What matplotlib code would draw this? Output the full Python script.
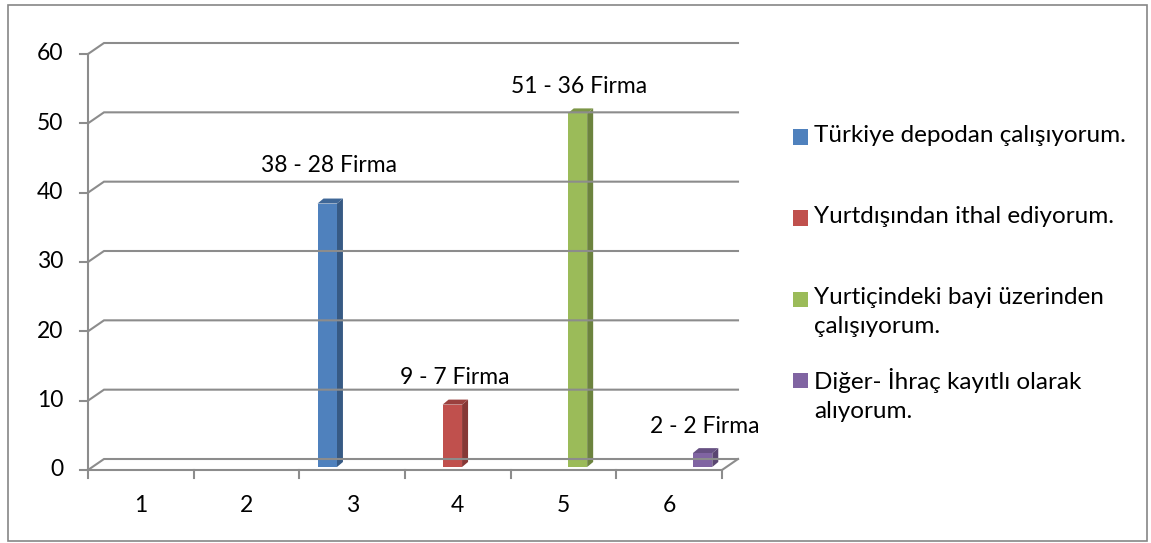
import matplotlib.pyplot as plt
import matplotlib as mpl
from matplotlib.colors import to_rgb
from matplotlib.patches import Rectangle, Polygon

mpl.rcParams['font.family'] = ['Lato', 'DejaVu Sans']

categories = [1, 2, 3, 4, 5, 6]
series_names = [
    "Türkiye depodan çalışıyorum.",
    "Yurtdışından ithal ediyorum.",
    "Yurtiçindeki bayi üzerinden\nçalışıyorum.",
    "Diğer- İhraç kayıtlı olarak\nalıyorum.",
]
series_colors = ["#4F81BD", "#C0504D", "#9BBB59", "#8064A2"]
# each answer only has a value in its own column
values = [
    [0, 0, 38, 0, 0, 0],
    [0, 0, 0, 9, 0, 0],
    [0, 0, 0, 0, 51, 0],
    [0, 0, 0, 0, 0, 2],
]
value_labels = ["38 - 28 Firma", "9 - 7 Firma", "51 - 36 Firma", "2 - 2 Firma"]
y_ticks = [0, 10, 20, 30, 40, 50, 60]

W, H = 1151, 543
fig = plt.figure(figsize=(W / 100, H / 100), dpi=100)
ax = fig.add_axes([88 / W, 1 - 470 / H, (722 - 88) / W, (470 - 54) / H])
ax.set_xlim(0.5, 6.5)
ax.set_ylim(0, 60)
ax.axis('off')

FS = 16.5

# data units per pixel, used for the fake 3d depth
px_x = 6 / (722 - 88)
px_y = 60 / (470 - 54)
wall_dx, wall_dy = 16 * px_x, 11 * px_y
bar_dx, bar_dy = 6 * px_x, 5 * px_y
base = 3 * px_y

line_kw = dict(color='#8c8c8c', lw=1.5, clip_on=False, solid_joinstyle='miter')

# back wall gridlines with the slanted piece going to the front axis
for v in y_ticks:
    ax.plot([0.5, 0.5 + wall_dx, 6.5 + wall_dx], [v, v + wall_dy, v + wall_dy], **line_kw)
    ax.plot([0.5 - 8 * px_x, 0.5], [v, v], **line_kw)
    ax.text(0.5 - 25 * px_x, v, str(v), ha='right', va='center', fontsize=FS)

# front axis and floor edge
ax.plot([0.5, 0.5], [0, 60], **line_kw)
ax.plot([0.5, 6.5, 6.5 + wall_dx], [0, 0, wall_dy], **line_kw)
for b in range(7):
    ax.plot([0.5 + b, 0.5 + b], [0, -8 * px_y], **line_kw)
for c in categories:
    ax.text(c, -36 * px_y, str(c), ha='center', va='center', fontsize=FS)

# clustered columns, four series per category
w = 0.184
for i, (vals, color) in enumerate(zip(values, series_colors)):
    rgb = to_rgb(color)
    side = tuple(k * 0.7 for k in rgb)
    top = tuple(k * 0.8 for k in rgb)
    for c, v in zip(categories, vals):
        if v == 0:
            continue
        xc = c + (i - 1.5) * w + 0.04
        x0, x1 = xc - w / 2, xc + w / 2
        y0, y1 = base, base + v
        ax.add_patch(Polygon([(x1, y0), (x1 + bar_dx, y0 + bar_dy), (x1 + bar_dx, y1 + bar_dy), (x1, y1)],
                             closed=True, fc=side, ec='none', clip_on=False))
        ax.add_patch(Polygon([(x0, y1), (x1, y1), (x1 + bar_dx, y1 + bar_dy), (x0 + bar_dx, y1 + bar_dy)],
                             closed=True, fc=top, ec='none', clip_on=False))
        ax.add_patch(Rectangle((x0, y0), w, v, fc=color, ec='none', clip_on=False))
        nudge = 11 if i == 0 else 0
        ax.text(xc + 2 * px_x, y1 + (27 + nudge) * px_y, value_labels[i],
                ha='center', va='center', fontsize=FS, clip_on=False)

# legend drawn by hand so the entries keep an even step
for i, (name, color) in enumerate(zip(series_names, series_colors)):
    yc = 137 + 81 * i
    fig.add_artist(Rectangle((793 / W, 1 - (yc + 7.5) / H), 15 / W, 15 / H,
                             transform=fig.transFigure, fc=color, ec='none'))
    fig.text(814 / W, 1 - (yc - 12) / H, name, ha='left', va='top', fontsize=17.5, linespacing=1.45)

# chart frame
fig.add_artist(Rectangle((8 / W, 1 - 541 / H), (1147 - 8) / W, (541 - 5) / H,
                         transform=fig.transFigure, fill=False, ec='#868686', lw=1.2))

fig.savefig("out.png", dpi=100)
